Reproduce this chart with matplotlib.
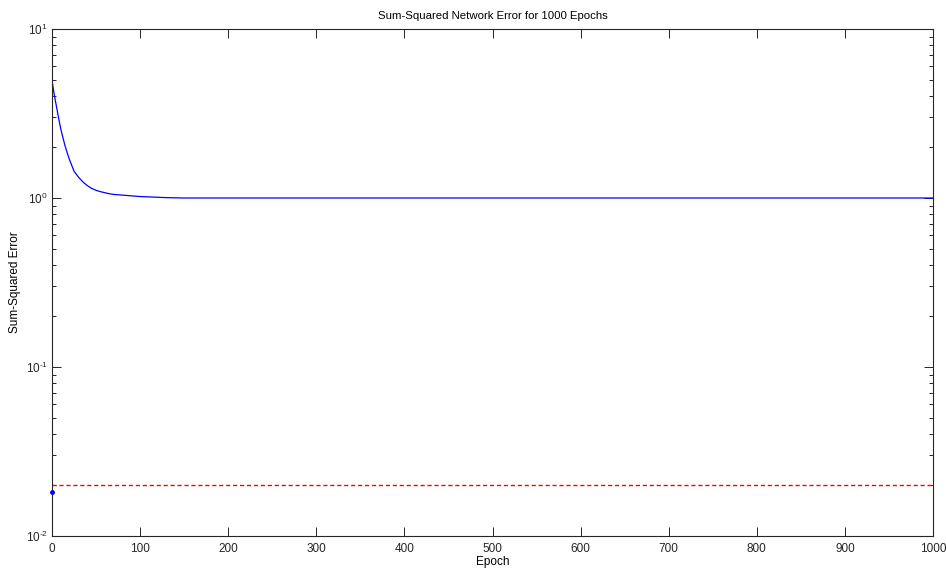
import numpy as np
import matplotlib
matplotlib.use("Agg")
import matplotlib.pyplot as plt
from matplotlib.ticker import LogLocator, FixedLocator, FixedFormatter, NullFormatter

plt.rcParams['font.family'] = ['Liberation Sans', 'DejaVu Sans']
plt.rcParams['mathtext.fontset'] = 'custom'
plt.rcParams['mathtext.rm'] = 'Liberation Sans'
plt.rcParams['mathtext.it'] = 'Liberation Sans'

# Data
epochs = [0, 2, 4, 6, 8, 10, 12, 15, 18, 20, 25, 30, 35, 40, 45, 50, 55, 60,
          65, 70, 75, 80, 90, 100, 110, 120, 130, 150, 200, 300, 400, 500,
          600, 700, 800, 900, 1000]
sse = [5.0, 4.25, 3.72, 3.28, 2.88, 2.56, 2.32, 2.02, 1.80, 1.68, 1.44, 1.33,
       1.245, 1.185, 1.14, 1.11, 1.09, 1.075, 1.06, 1.05, 1.045, 1.04, 1.03,
       1.02, 1.015, 1.01, 1.005, 1.0, 1.0, 1.0, 1.0, 1.0, 1.0, 1.0, 1.0, 1.0, 1.0]
goal = 0.02
goal_epochs = [0, 1000]
start_epoch = [0]
start_marker = [0.0183]

title = "Sum-Squared Network Error for 1000 Epochs"
xlabel = "Epoch"
ylabel = "Sum-Squared Error"
xticks = [0, 100, 200, 300, 400, 500, 600, 700, 800, 900, 1000]
yticks = [1e-2, 1e-1, 1e0, 1e1]
ytick_labels = [r"$10^{\text{-}2}$", r"$10^{\text{-}1}$", r"$10^{0}$", r"$10^{1}$"]

fig = plt.figure(figsize=(9.46, 5.69), dpi=100)
ax = fig.add_axes([52/946, 1-536/569, (933-52)/946, (536-29)/569])

ax.plot(epochs, sse, color='#0000ff', linewidth=0.9)
ax.plot(goal_epochs, [goal, goal], color='#ff0000', linewidth=1.0,
        linestyle=(0, (3, 2)))
ax.plot(start_epoch, start_marker, marker='o', color='#0000ff',
        markersize=2.5, linestyle='none', clip_on=False, zorder=5)

ax.set_yscale('log')
ax.set_xlim(0, 1000)
ax.set_ylim(1e-2, 1e1)
ax.xaxis.set_major_locator(FixedLocator(xticks))
ax.yaxis.set_major_locator(FixedLocator(yticks))
ax.yaxis.set_major_formatter(FixedFormatter(ytick_labels))
ax.yaxis.set_minor_locator(LogLocator(base=10, subs=np.arange(2, 10)))
ax.yaxis.set_minor_formatter(NullFormatter())

ax.tick_params(which='both', direction='in', top=True, right=True,
               labelsize=8.5, colors='#262626', width=0.7)
ax.tick_params(which='major', length=6.5)
ax.tick_params(axis='x', which='major', pad=5)
ax.tick_params(axis='y', which='major', pad=3)
ax.tick_params(which='minor', length=3.2)
for s in ax.spines.values():
    s.set_linewidth(0.8)
    s.set_color('#262626')

ax.set_title(title, fontsize=8.2, pad=7)
ax.set_xlabel(xlabel, fontsize=8.5, labelpad=1)
fig.text(15/946, 1 - 282/569, ylabel, fontsize=8.5, rotation=90,
         ha='center', va='center')

fig.savefig("out.png", dpi=100)
